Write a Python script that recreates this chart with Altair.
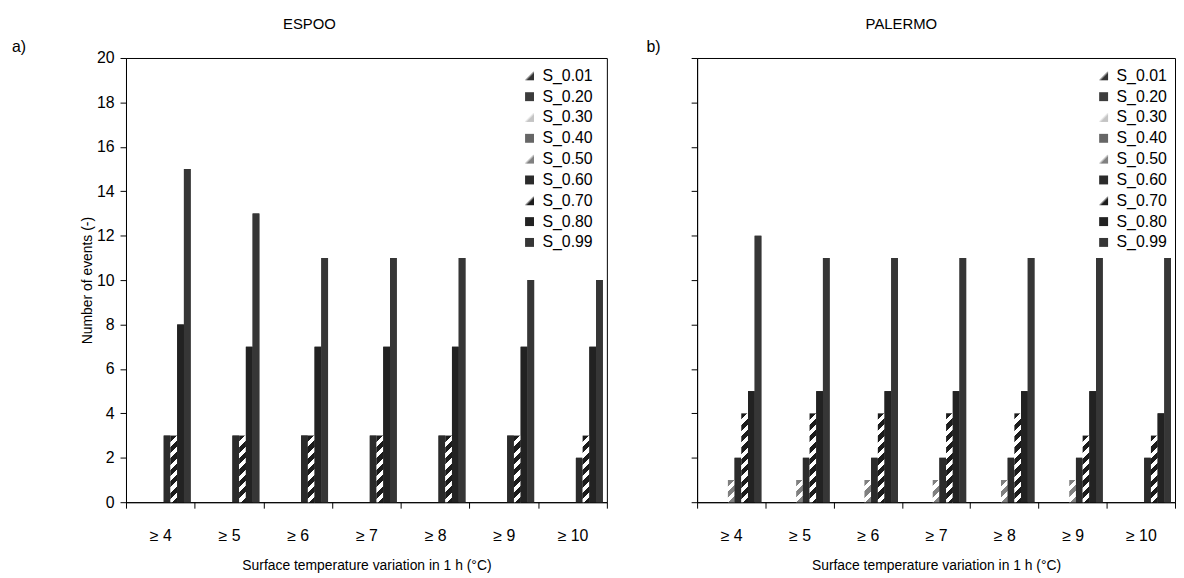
import math
import altair as alt
import pandas as pd

categories = ["≥ 4", "≥ 5", "≥ 6", "≥ 7", "≥ 8", "≥ 9", "≥ 10"]
series = ["S_0.01", "S_0.20", "S_0.30", "S_0.40", "S_0.50",
          "S_0.60", "S_0.70", "S_0.80", "S_0.99"]

# ESPOO values per series
espoo_s001 = [0, 0, 0, 0, 0, 0, 0]
espoo_s020 = [0, 0, 0, 0, 0, 0, 0]
espoo_s030 = [0, 0, 0, 0, 0, 0, 0]
espoo_s040 = [0, 0, 0, 0, 0, 0, 0]
espoo_s050 = [0, 0, 0, 0, 0, 0, 0]
espoo_s060 = [3, 3, 3, 3, 3, 3, 2]
espoo_s070 = [3, 3, 3, 3, 3, 3, 3]
espoo_s080 = [8, 7, 7, 7, 7, 7, 7]
espoo_s099 = [15, 13, 11, 11, 11, 10, 10]

# PALERMO values per series
palermo_s001 = [0, 0, 0, 0, 0, 0, 0]
palermo_s020 = [0, 0, 0, 0, 0, 0, 0]
palermo_s030 = [0, 0, 0, 0, 0, 0, 0]
palermo_s040 = [0, 0, 0, 0, 0, 0, 0]
palermo_s050 = [1, 1, 1, 1, 1, 1, 0]
palermo_s060 = [2, 2, 2, 2, 2, 2, 2]
palermo_s070 = [4, 4, 4, 4, 4, 3, 3]
palermo_s080 = [5, 5, 5, 5, 5, 5, 4]
palermo_s099 = [12, 11, 11, 11, 11, 11, 11]

espoo_values = [espoo_s001, espoo_s020, espoo_s030, espoo_s040, espoo_s050,
                espoo_s060, espoo_s070, espoo_s080, espoo_s099]
palermo_values = [palermo_s001, palermo_s020, palermo_s030, palermo_s040, palermo_s050,
                  palermo_s060, palermo_s070, palermo_s080, palermo_s099]

# styling: (kind, colour)
styles = [("hatch", "#333333"), ("solid", "#3c3c3c"), ("hatch", "#c4c4c4"),
          ("solid", "#666666"), ("hatch", "#808080"), ("solid", "#2b2b2b"),
          ("hatch", "#1c1c1c"), ("solid", "#222222"), ("solid", "#363636")]

FONT = "Liberation Sans"
PLOT_H = 448
Y_MAX = 20
PX_PER_UNIT = PLOT_H / Y_MAX


def bar_width(width):
    return width / len(categories) / (len(series) + 1.2)


def hatch_gradient(fg, w, h, period=11.5, dark=0.55):
    total = w + h
    s = total / (w * w + h * h)
    p = period / total
    stops = []
    k = 0
    while k * p < 1:
        a = k * p
        b = min(a + dark * p, 1)
        c = min(a + p, 1)
        stops += [{"offset": round(a, 5), "color": fg},
                  {"offset": round(b, 5), "color": fg},
                  {"offset": round(b, 5), "color": "#ffffff"},
                  {"offset": round(c, 5), "color": "#ffffff"}]
        k += 1
    return {"gradient": "linear", "x1": 0, "y1": 0,
            "x2": round(s * w, 6), "y2": round(s * h, 6), "stops": stops}


def legend_expr(fg):
    return ("{gradient:'linear',x1:0,y1:0,x2:1,y2:1,stops:["
            "{offset:0,color:'#ffffff'},{offset:0.42,color:'#ffffff'},"
            "{offset:0.62,color:'%s'},{offset:1,color:'%s'}]}" % (fg, fg))


legend_range = [{"expr": legend_expr(c)} if k == "hatch" else c for k, c in styles]


def build_df(values, width):
    w = bar_width(width)
    rows = []
    for si, name in enumerate(series):
        kind, col = styles[si]
        for ci, cat in enumerate(categories):
            v = values[si][ci]
            if kind == "hatch":
                f = hatch_gradient(col, w, max(v * PX_PER_UNIT, 1))
            else:
                f = col
            rows.append({"cat": cat, "series": name, "v": v, "fillv": f})
    return pd.DataFrame(rows)


def panel(values, title, letter, width, first, title_x, legend_x):
    df = build_df(values, width)
    base = alt.Chart(df)
    x = alt.X("cat:N", sort=categories,
              scale=alt.Scale(paddingInner=0, paddingOuter=0),
              axis=alt.Axis(title="Surface temperature variation in 1 h (°C)",
                            tickBand="extent", labelAngle=0, tickSize=6,
                            labelPadding=20, titlePadding=15))
    xo = alt.XOffset("series:N", sort=series,
                     scale=alt.Scale(domain=series, paddingInner=0, paddingOuter=0.6))
    if first:
        yaxis = alt.Axis(values=list(range(0, 21, 2)), tickSize=6, labelPadding=6,
                         title="Number of events (-)", titlePadding=2)
    else:
        yaxis = alt.Axis(values=list(range(0, 21, 2)), tickSize=6, labels=False,
                         title=None)
    y = alt.Y("v:Q", scale=alt.Scale(domain=[0, Y_MAX], nice=False), axis=yaxis)

    under = base.mark_bar().encode(
        x=x, xOffset=xo, y=y,
        color=alt.Color("series:N", sort=series,
                        scale=alt.Scale(domain=series, range=legend_range),
                        legend=alt.Legend(title=None, orient="none",
                                          legendX=legend_x, legendY=10,
                                          symbolType="square", symbolSize=81,
                                          symbolStrokeWidth=0, labelFontSize=16,
                                          labelFont=FONT, labelColor="black",
                                          labelOffset=5, rowPadding=5, padding=0)))
    over = base.mark_bar().encode(
        x=x, xOffset=xo, y=y,
        fill=alt.Fill("fillv:N", scale=None))

    ttl = alt.Chart(pd.DataFrame({"t": [title]})).mark_text(
        font=FONT, fontSize=15, align="center", baseline="middle", color="black"
    ).encode(text="t:N", x=alt.value(title_x), y=alt.value(-34))
    let = alt.Chart(pd.DataFrame({"t": [letter]})).mark_text(
        font=FONT, fontSize=16, align="left", baseline="middle", color="black"
    ).encode(text="t:N", x=alt.value(-115 if first else -51), y=alt.value(-11))

    return alt.layer(under, over, ttl, let).properties(width=width, height=PLOT_H)


left = panel(espoo_values, "ESPOO", "a)", 485, True, 185, 399)
right = panel(palermo_values, "PALERMO", "b)", 482, False, 206, 402)

chart = alt.hconcat(left, right, spacing=38).resolve_scale(
    color="independent", x="independent", y="independent", xOffset="independent"
).resolve_legend(color="independent").properties(
    padding={"left": 3, "top": 6, "right": 0, "bottom": 0}
).configure_view(stroke="black", strokeWidth=1).configure_axis(
    domainColor="black", tickColor="black", labelColor="black", titleColor="black",
    labelFont=FONT, titleFont=FONT, labelFontSize=16, titleFontSize=14,
    titleFontWeight="normal", grid=False, domainWidth=1, tickWidth=1
)

chart.save("out.html", embed_options={"renderer": "svg", "actions": False})
